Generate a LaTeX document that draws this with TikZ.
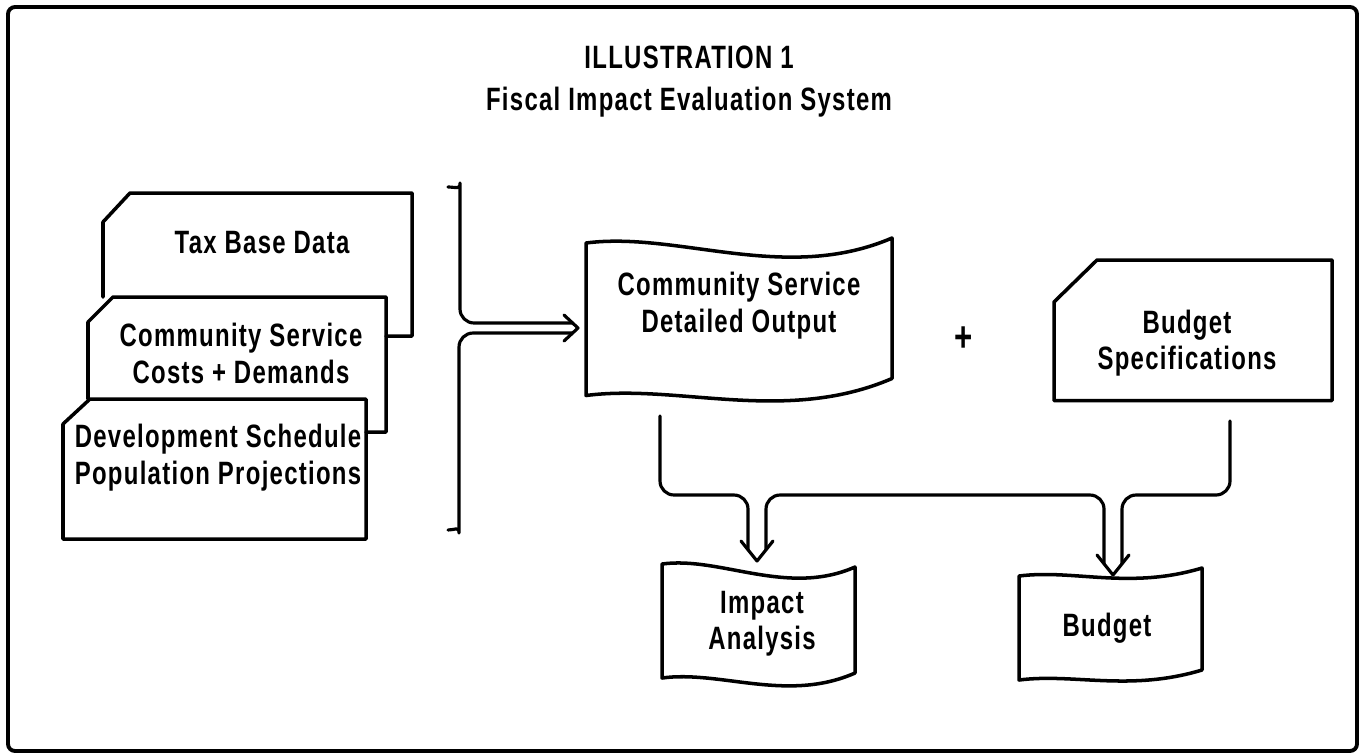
\documentclass[tikz,border=0pt]{standalone}
\usepackage{fontspec}
\setmainfont[FakeStretch=0.74,LetterSpace=4]{Liberation Sans}
\newcommand{\diafont}{\fontsize{18.4pt}{20.7pt}\selectfont\bfseries}
\newcommand{\plusfont}{\fontsize{24pt}{24pt}\selectfont\bfseries}
\begin{document}
\begin{tikzpicture}[x=0.02cm,y=-0.02cm, line join=round, line cap=round,
  box/.style={line width=2pt},
  conn/.style={line width=1.8pt, rounded corners=8},
  tip/.style={line width=1.8pt},
  lbl/.style={align=center, inner sep=0pt, font=\diafont}]
\useasboundingbox (0,0) rectangle (1364,755);
% frame
\draw[line width=2.2pt, rounded corners=4] (8,7) rectangle (1357,751);
% titles
\node[lbl] (title) at (689,57) {ILLUSTRATION 1};
\node[lbl] (subtitle) at (689,102) {Fiscal Impact Evaluation System};
% stacked input cards
\draw[box] (386,336) -- (412,336) -- (412,193) -- (130,193) -- (103,222) -- (103,297);
\draw[box] (366,432) -- (386,432) -- (386,297) -- (113,297) -- (88,322) -- (88,399);
\draw[box] (63,424) -- (90,399) -- (366,399) -- (366,539) -- (63,539) -- cycle;
\node[lbl] (tax) at (262,243) {Tax Base Data};
\node[lbl] (csc) at (241,353.5) {Community Service\\Costs + Demands};
\node[lbl] (dev) at (218,457.5) {Development Schedule\\Population Projections};
% brace with double arrow
\coordinate (braceU) at (572.6,323);
\coordinate (braceL) at (572.6,333);
\coordinate (braceTip) at (578,328);
\draw[conn] (448,187) .. controls (456,187) and (460,190) .. (460,197) -- (460,323) -- (braceU);
\draw[conn] (braceL) -- (459,333) -- (459,519) .. controls (459,526) and (455,530) .. (448,530);
\draw[tip] (564,315) -- (braceTip) -- (564,341);
% community service detailed output
\draw[box] (586,243) .. controls (678,231) and (785,284) .. (892,238) -- (892,378.5)
  .. controls (785,424.5) and (678,383.5) .. (586,395.5) -- cycle;
\node[lbl] (csdo) at (739,305.5) {Community Service\\Detailed Output};
\node[lbl, font=\plusfont] (plus) at (964,339) {+};
% budget specifications
\draw[box] (1054,302) -- (1097,260) -- (1332,260) -- (1332,400.5) -- (1054,400.5) -- cycle;
\node[lbl] (bspec) at (1187,343) {Budget\\Specifications};
% outputs
\draw[box] (662,564) .. controls (720,556) and (787,597) .. (855,567) -- (855,673)
  .. controls (787,703) and (720,670) .. (662,678) -- cycle;
\node[lbl] (impact) at (762,623.5) {Impact\\Analysis};
\draw[box] (1019,576) .. controls (1074,569) and (1129,590) .. (1202,568) -- (1202,670)
  .. controls (1129,692) and (1074,673) .. (1019,680) -- cycle;
\node[lbl] (budget) at (1107,628) {Budget};
% connectors
\coordinate (csdoOut) at (660,416);
\coordinate (bspecOut) at (1230,421);
\coordinate (a1L) at (748,549.75);
\coordinate (a1R) at (766,549.75);
\coordinate (a2L) at (1104,563.75);
\coordinate (a2R) at (1122,563.75);
\coordinate (a1Tip) at (757,561);
\coordinate (a2Tip) at (1113,575);
\draw[conn] (csdoOut) -- (660,495) -- (748,495) -- (a1L);
\draw[conn] (a1R) -- (766,495) -- (1104,495) -- (a2L);
\draw[conn] (bspecOut) -- (1230,495) -- (1122,495) -- (a2R);
\draw[tip] (741,541) -- (a1Tip) -- (773,541);
\draw[tip] (1097,555) -- (a2Tip) -- (1129,555);
\end{tikzpicture}
\end{document}
